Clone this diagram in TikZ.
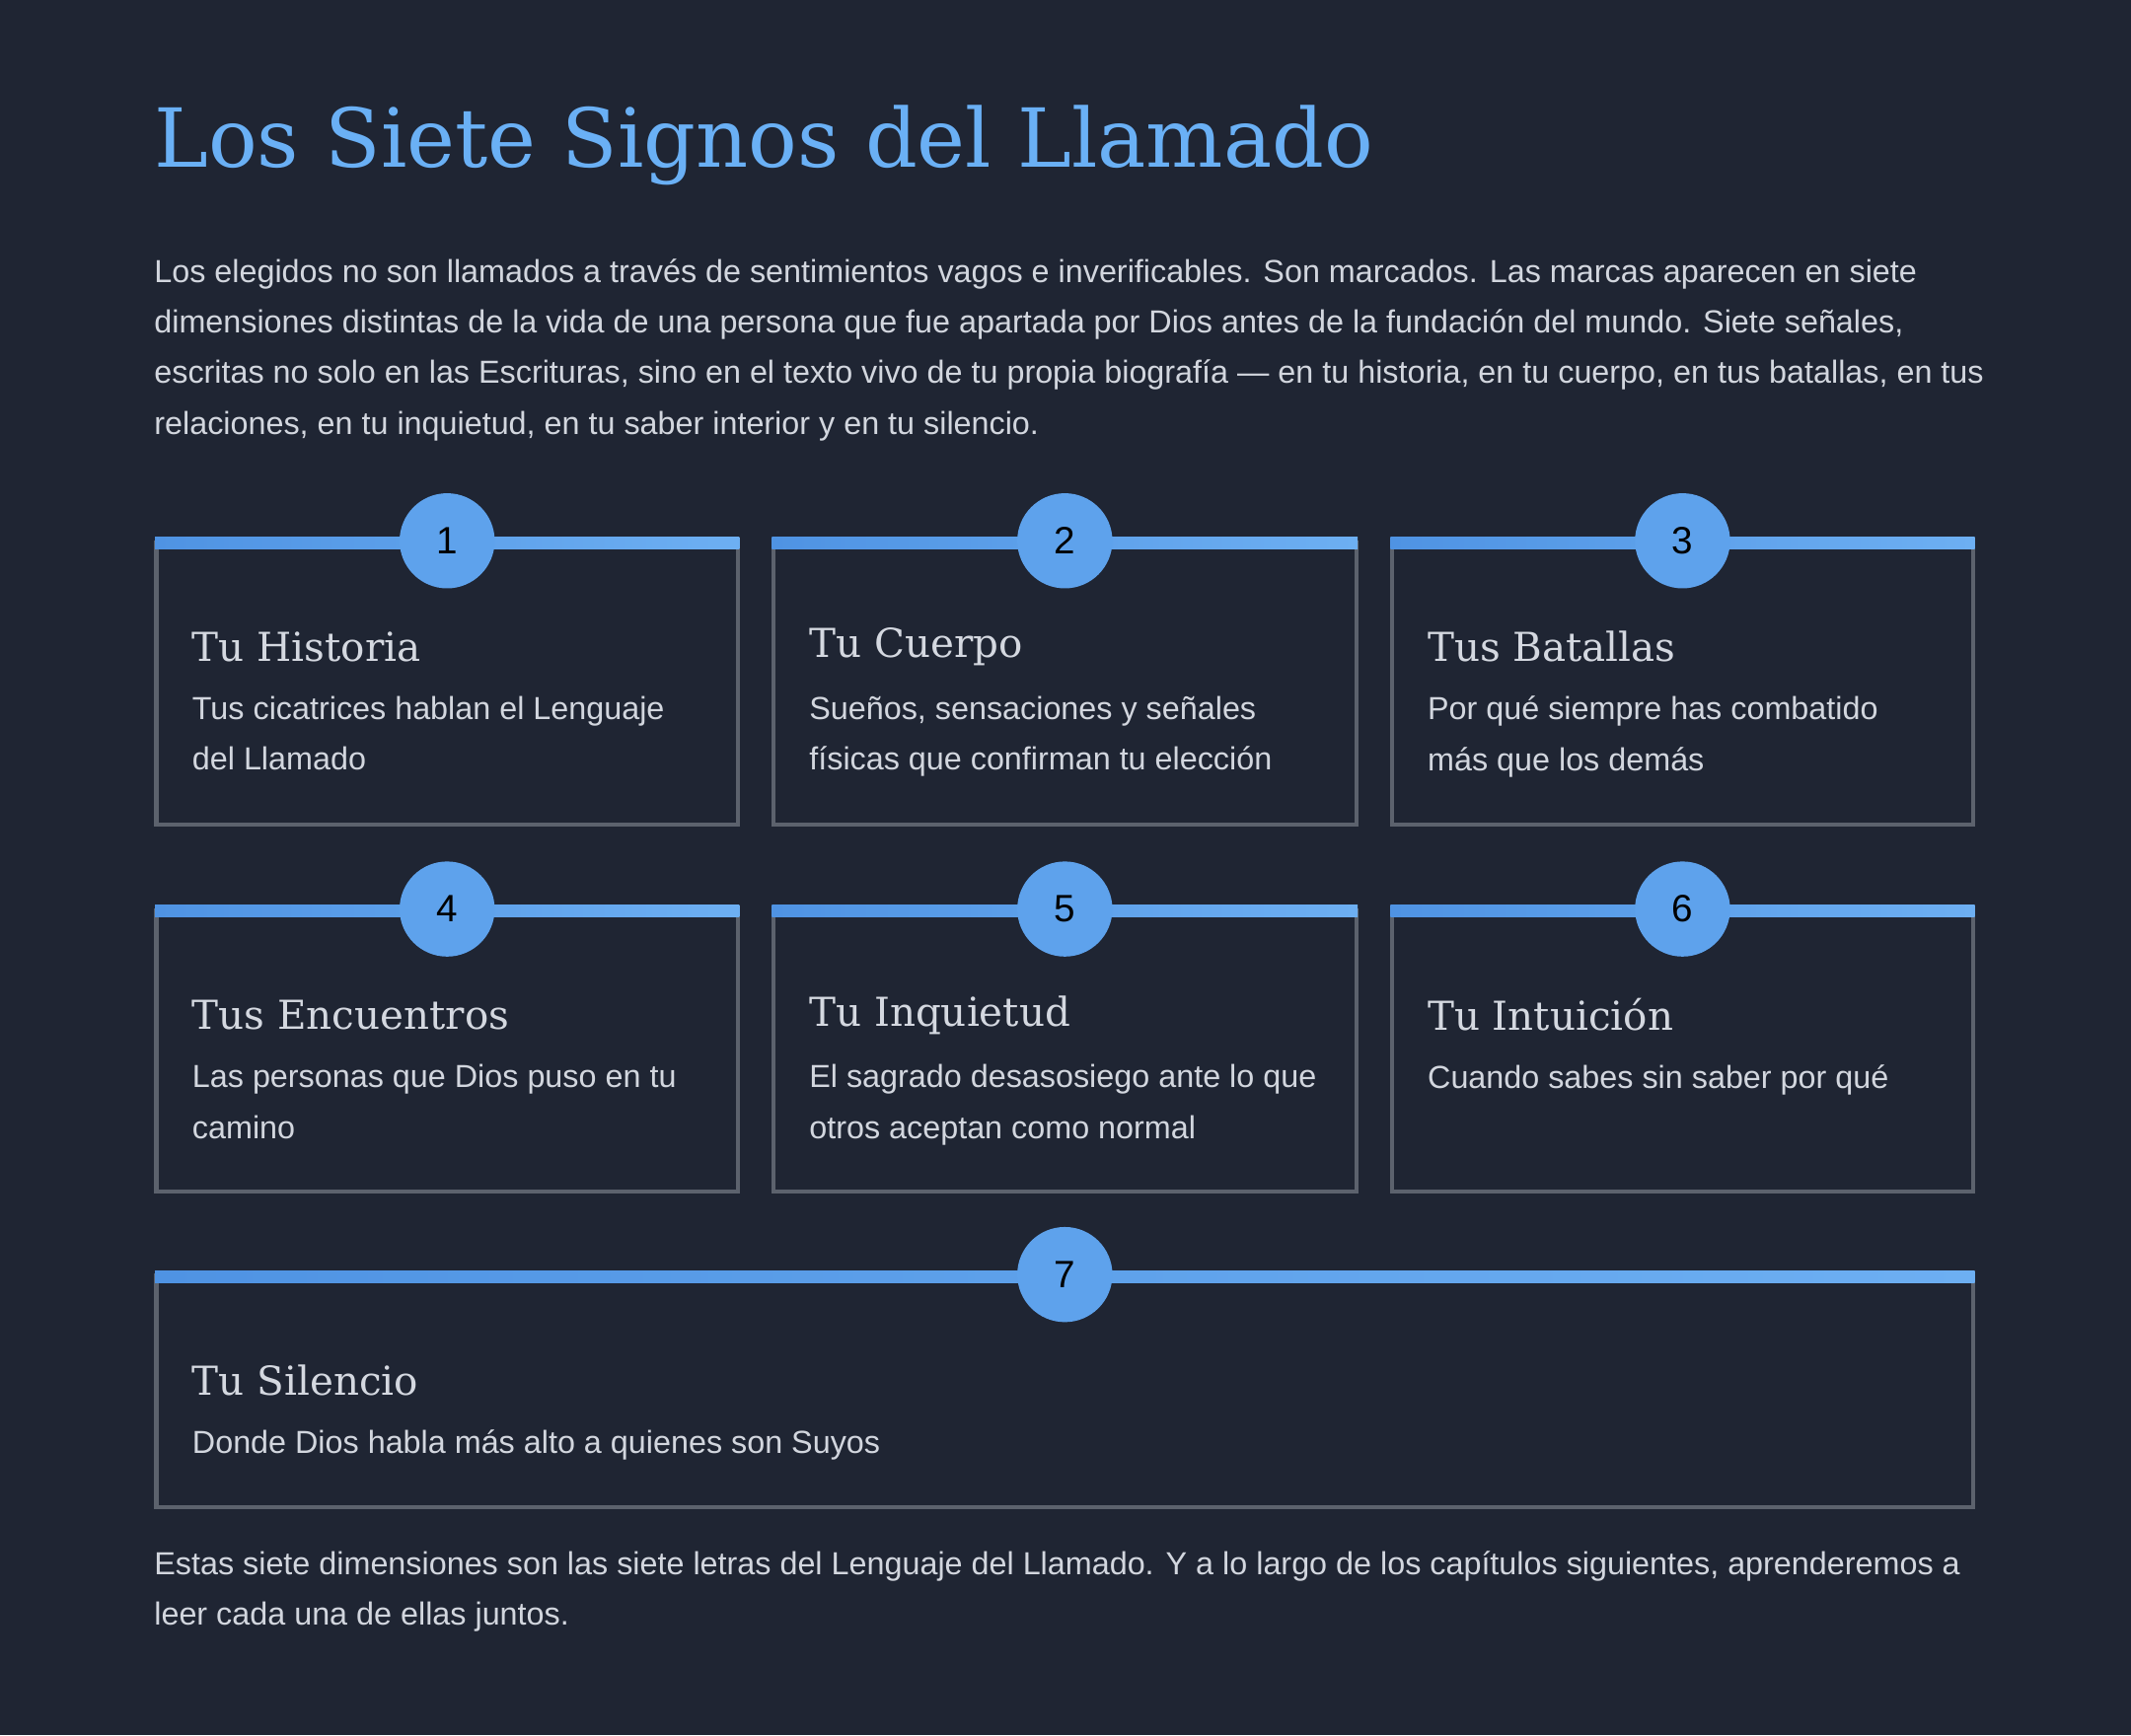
\documentclass[tikz,border=0pt]{standalone}
\usepackage{fontspec}
\setmainfont{Liberation Sans}
\newfontfamily\slab{DejaVu Serif}
\usetikzlibrary{positioning,calc}
\definecolor{bgdark}{HTML}{1F2533}
\definecolor{titleblue}{HTML}{6AB0F5}
\definecolor{bodygray}{HTML}{D2D6DE}
\definecolor{cardline}{HTML}{5C626D}
\definecolor{barleft}{HTML}{4F93E3}
\definecolor{barright}{HTML}{6DAFF2}
\definecolor{numfill}{HTML}{5EA2EC}

\begin{document}
\begin{tikzpicture}[x=0.013776cm, y=-0.013776cm,
    bodytext/.style={font=\fontsize{9.2}{14.6}\selectfont, text=bodygray, anchor=north west, align=left, inner sep=0},
    cardtitle/.style={font=\slab\fontsize{11.5}{14}\selectfont, text=bodygray!95!white, anchor=west, inner sep=0},
    numdot/.style={circle, fill=numfill, minimum size=70*0.013776cm, inner sep=0, font=\fontsize{11}{12}\selectfont, text=black}
]
\useasboundingbox[fill=bgdark] (0,0) rectangle (1568,1277);

% Title and intro
\node[anchor=base west, inner sep=0, font=\slab\fontsize{23.5}{28}\selectfont, text=titleblue] (title) at (113,123) {Los Siete Signos del Llamado};
\node[bodytext] (intro) at (113,190) {Los elegidos no son llamados a través de sentimientos vagos e inverificables. Son marcados. Las marcas aparecen en siete\\
dimensiones distintas de la vida de una persona que fue apartada por Dios antes de la fundación del mundo. Siete señales,\\
escritas no solo en las Escrituras, sino en el texto vivo de tu propia biografía — en tu historia, en tu cuerpo, en tus batallas, en tus\\
relaciones, en tu inquietud, en tu saber interior y en tu silencio.};

% Cards
\foreach \i/\xa/\xb/\ya/\yb/\t/\d in {
  1/115/543/399/607/{Tu Historia}/{Tus cicatrices hablan el Lenguaje\\del Llamado},
  2/569/998/399/607/{Tu Cuerpo}/{Sueños, sensaciones y señales\\físicas que confirman tu elección},
  3/1024/1452/399/607/{Tus Batallas}/{Por qué siempre has combatido\\más que los demás},
  4/115/543/670/877/{Tus Encuentros}/{Las personas que Dios puso en tu\\camino},
  5/569/998/670/877/{Tu Inquietud}/{El sagrado desasosiego ante lo que\\otros aceptan como normal},
  6/1024/1452/670/877/{Tu Intuición}/{Cuando sabes sin saber por qué},
  7/115/1452/939/1109/{Tu Silencio}/{Donde Dios habla más alto a quienes son Suyos}} {
  \draw[cardline, line width=1.2pt] (\xa,\ya) rectangle (\xb,\yb);
  \shade[left color=barleft, right color=barright] (\xa-1,\ya-4) rectangle (\xb+1,\ya+5);
  \node[numdot] (num\i) at ({(\xa+\xb)/2},\ya-1) {\i};
  \node[cardtitle] (head\i) at (\xa+26,\ya+77) {\t};
  \node[bodytext] (desc\i) at (\xa+26,\ya+113) {\d};
}

% Closing
\node[bodytext] (outro) at (113,1141) {Estas siete dimensiones son las siete letras del Lenguaje del Llamado. Y a lo largo de los capítulos siguientes, aprenderemos a\\
leer cada una de ellas juntos.};
\end{tikzpicture}
\end{document}
